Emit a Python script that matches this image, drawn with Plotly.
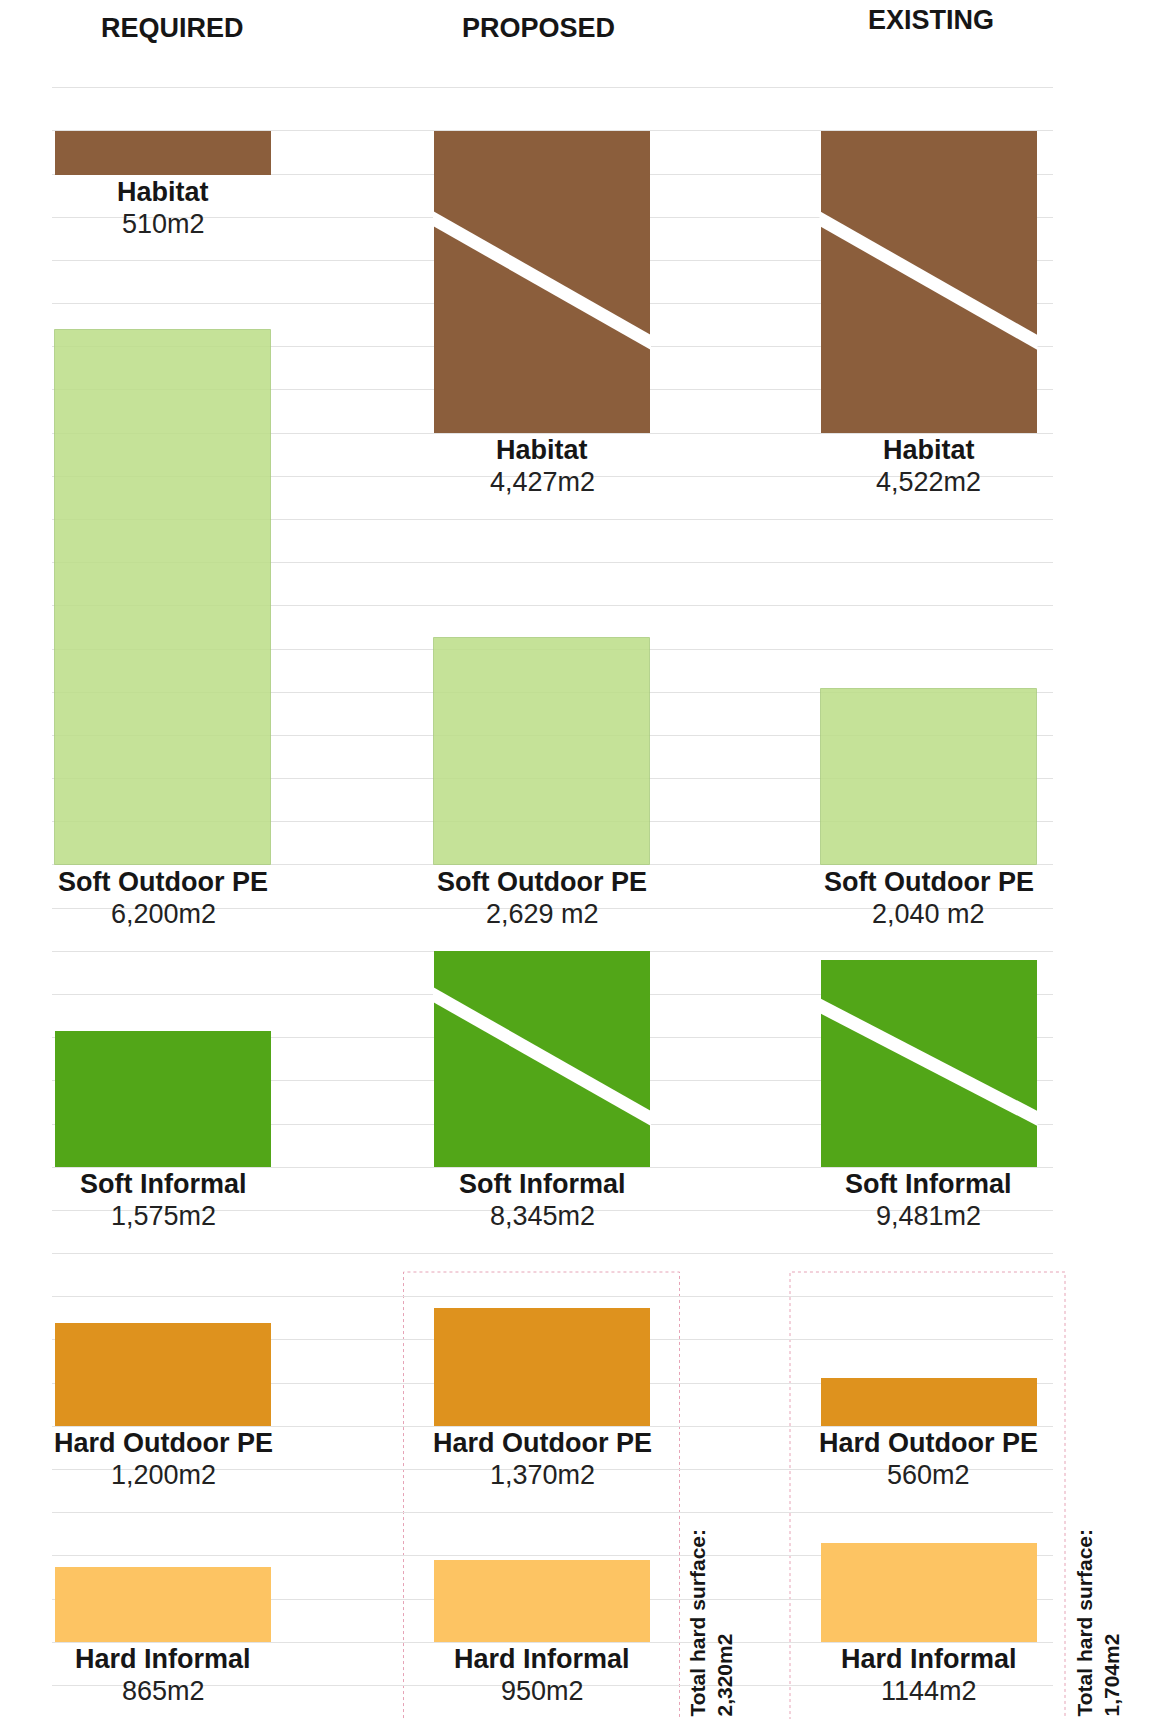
import plotly.graph_objects as go

# ---------------- data ----------------
COLUMNS = ["REQUIRED", "PROPOSED", "EXISTING"]
CATEGORIES = ["Habitat", "Soft Outdoor PE", "Soft Informal", "Hard Outdoor PE", "Hard Informal"]

habitat_m2 = [510, 4427, 4522]
soft_outdoor_pe_m2 = [6200, 2629, 2040]
soft_informal_m2 = [1575, 8345, 9481]
hard_outdoor_pe_m2 = [1200, 1370, 560]
hard_informal_m2 = [865, 950, 1144]

habitat_labels = ["510m2", "4,427m2", "4,522m2"]
soft_outdoor_pe_labels = ["6,200m2", "2,629 m2", "2,040 m2"]
soft_informal_labels = ["1,575m2", "8,345m2", "9,481m2"]
hard_outdoor_pe_labels = ["1,200m2", "1,370m2", "560m2"]
hard_informal_labels = ["865m2", "950m2", "1144m2"]

SERIES = {
    "Habitat": (habitat_m2, habitat_labels),
    "Soft Outdoor PE": (soft_outdoor_pe_m2, soft_outdoor_pe_labels),
    "Soft Informal": (soft_informal_m2, soft_informal_labels),
    "Hard Outdoor PE": (hard_outdoor_pe_m2, hard_outdoor_pe_labels),
    "Hard Informal": (hard_informal_m2, hard_informal_labels),
}

# ---------------- layout / style ----------------
W, H = 1150, 1719
M_L, M_R, M_T, M_B = 52, 97, 80, 0
STEP = 500            # m2 per gridline
PX_PER_STEP = 43.18
GRID_TOP_VAL = 18000
GRID_TOP_PX = 87.7
U = STEP / PX_PER_STEP  # data units per pixel

y_top = GRID_TOP_VAL + (GRID_TOP_PX - M_T) * U
y_bot = GRID_TOP_VAL - (H - M_B - GRID_TOP_PX) * U

COL_X = [163, 542, 928.5]
BAR_W = 216
HEADER_X = [172, 538, 931]
HEADER_Y_PX = [28, 28, 20]

# row anchor: (direction, value in axis units)
ROWS = {
    "Habitat": ("down", 17500),
    "Soft Outdoor PE": ("up", 9000),
    "Soft Informal": ("up", 5500),
    "Hard Outdoor PE": ("up", 2500),
    "Hard Informal": ("up", 0),
}
# drawn length caps for broken (truncated) bars
CAPS = {("Habitat", 1): 3500, ("Habitat", 2): 3500,
        ("Soft Informal", 1): 2500, ("Soft Informal", 2): 2400}
BREAK_FRAC = {("Habitat", 1): (0.29, 0.70), ("Habitat", 2): (0.29, 0.70),
              ("Soft Informal", 1): (0.20, 0.775), ("Soft Informal", 2): (0.22, 0.765)}
BREAK_THICK_PX = 15

COLORS = {
    "Habitat": "#8B5E3C",
    "Soft Outdoor PE": "#BCDE87",
    "Soft Informal": "#52A618",
    "Hard Outdoor PE": "#DE921E",
    "Hard Informal": "#FDC463",
}
OPAC = {"Soft Outdoor PE": 0.85}
LINE = {"Soft Outdoor PE": ("#A9CC7C", 1)}

FONT = "Liberation Sans, Arial, sans-serif"
FS = 27
NAME_OFF_PX = 17
VAL_OFF_PX = 49

TOTAL_X_PX = {1: 710, 2: 1097}
BOX_X_PX = {1: (403.5, 679.5), 2: (790, 1065)}
BOX_TOP_PX = 1272


def paper_x(px):
    return (px - M_L) / (W - M_L - M_R)


def paper_y(px):
    return (H - M_B - px) / (H - M_T - M_B)


fig = go.Figure()
annotations = []
shapes = []

for cat in CATEGORIES:
    vals, labels = SERIES[cat]
    direction, anchor = ROWS[cat]
    lens = [min(v, CAPS.get((cat, j), v)) for j, v in enumerate(vals)]
    if direction == "down":
        ys = [-l for l in lens]
        bottoms = [anchor - l for l in lens]
        tops = [anchor] * len(lens)
    else:
        ys = lens
        bottoms = [anchor] * len(lens)
        tops = [anchor + l for l in lens]
    lc, lw = LINE.get(cat, (COLORS[cat], 0))
    fig.add_trace(go.Bar(
        x=COL_X, y=ys, base=[anchor] * len(lens), width=BAR_W,
        marker=dict(color=COLORS[cat], opacity=OPAC.get(cat, 1.0),
                    line=dict(color=lc, width=lw)),
        name=cat, customdata=vals,
        hovertemplate=cat + ": %{customdata} m2<extra></extra>",
        showlegend=False,
    ))
    for j in range(len(vals)):
        xc = COL_X[j]
        annotations.append(dict(
            x=xc, y=bottoms[j] - NAME_OFF_PX * U, xref="x", yref="y",
            text="<b>" + cat + "</b>", showarrow=False, xanchor="center", yanchor="middle",
            font=dict(family=FONT, size=FS, color="#161616")))
        annotations.append(dict(
            x=xc, y=bottoms[j] - VAL_OFF_PX * U, xref="x", yref="y",
            text=labels[j], showarrow=False, xanchor="center", yanchor="middle",
            font=dict(family=FONT, size=FS, color="#222222")))
        if (cat, j) in BREAK_FRAC:
            f0, f1 = BREAK_FRAC[(cat, j)]
            L = lens[j]
            t = tops[j]
            xl, xr = xc - BAR_W / 2 - 1, xc + BAR_W / 2 + 1
            yl = t - f0 * L
            yr = t - f1 * L
            h = BREAK_THICK_PX * U / 2
            path = (f"M {xl},{yl + h} L {xr},{yr + h} L {xr},{yr - h} "
                    f"L {xl},{yl - h} Z")
            shapes.append(dict(type="path", path=path, xref="x", yref="y",
                               fillcolor="white", line=dict(width=0), layer="above"))

# column headers
for j, col in enumerate(COLUMNS):
    annotations.append(dict(
        x=HEADER_X[j], y=paper_y(HEADER_Y_PX[j]), xref="x", yref="paper",
        text="<b>" + col + "</b>", showarrow=False, xanchor="center", yanchor="middle",
        font=dict(family=FONT, size=FS, color="#161616")))

# hard surface totals + dashed boxes
for j in (1, 2):
    total = hard_outdoor_pe_m2[j] + hard_informal_m2[j]
    annotations.append(dict(
        x=paper_x(TOTAL_X_PX[j]), y=paper_y(1719), xref="paper", yref="paper",
        text=f"<b>Total hard surface:<br>{total:,}m2</b>", textangle=-90,
        showarrow=False, xanchor="center", yanchor="bottom", align="left",
        font=dict(family=FONT, size=21, color="#161616")))
    x0, x1 = BOX_X_PX[j]
    shapes.append(dict(type="rect", xref="paper", yref="paper",
                       x0=paper_x(x0), x1=paper_x(x1),
                       y0=-0.05, y1=paper_y(BOX_TOP_PX),
                       line=dict(color="#E6A3B6", width=1, dash="dot"),
                       fillcolor="rgba(0,0,0,0)", layer="below"))

fig.update_layout(
    width=W, height=H,
    margin=dict(l=M_L, r=M_R, t=M_T, b=M_B, pad=0),
    paper_bgcolor="white", plot_bgcolor="white",
    barmode="overlay", bargap=0,
    showlegend=False,
    annotations=annotations, shapes=shapes,
    xaxis=dict(range=[M_L, W - M_R], visible=True, showgrid=False, zeroline=False,
               showticklabels=False, ticks="", showline=False, fixedrange=True),
    yaxis=dict(range=[y_bot, y_top], showgrid=True, gridcolor="#E2E2E2", gridwidth=1,
               tick0=0, dtick=STEP, zeroline=False, showticklabels=False, ticks="",
               showline=False, fixedrange=True),
)

fig.write_html("out.html")
